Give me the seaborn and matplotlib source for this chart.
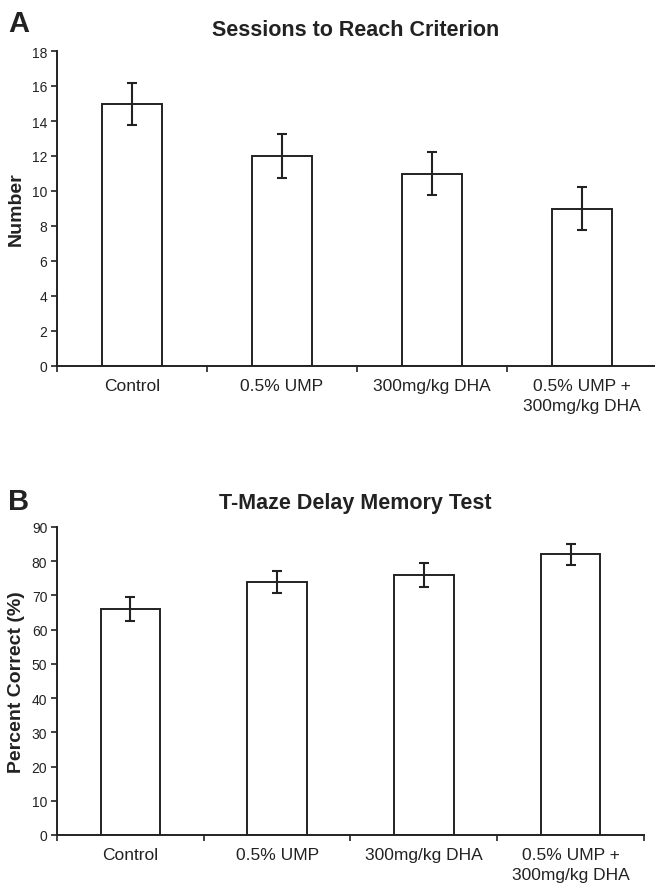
import matplotlib
matplotlib.use("Agg")
import matplotlib.pyplot as plt
import seaborn as sns
import pandas as pd

categories = ["Control", "0.5% UMP", "300mg/kg DHA", "0.5% UMP +\n300mg/kg DHA"]
sessions = [15, 12, 11, 9]
sessions_err = [1.2, 1.25, 1.25, 1.25]
percent = [66, 74, 76, 82]
percent_err = [3.5, 3.2, 3.5, 3.1]

sns.set_theme(style="white")
plt.rcParams['font.family'] = ['Liberation Sans', 'DejaVu Sans']

W, H = 655, 887
fig = plt.figure(figsize=(W / 100, H / 100), dpi=100)
axA = fig.add_axes([57 / W, 1 - 367 / H, 600 / W, 315 / H])
axB = fig.add_axes([57 / W, 1 - 836 / H, 587 / W, 308 / H])

def draw(ax, vals, errs, ymax, ystep, ylabel, title, letter, title_y, letter_y):
    df = pd.DataFrame({"cat": categories, "val": vals})
    sns.barplot(data=df, x="cat", y="val", ax=ax, color="white",
                edgecolor="#222222", linewidth=1.4, width=0.405, errorbar=None)
    ax.errorbar(range(len(vals)), vals, yerr=errs, fmt="none", ecolor="#222222",
                elinewidth=1.5, capsize=3.5, capthick=1.5)
    ax.set_xlim(-0.5, len(vals) - 0.5)
    ax.set_ylim(0, ymax)
    ax.set_yticks(range(0, ymax + 1, ystep))
    ax.set_xticks(range(len(vals)))
    ax.set_xticklabels(categories, linespacing=1.4)
    ax.set_xticks([i - 0.5 for i in range(len(vals) + 1)], minor=True)
    ax.tick_params(axis="x", which="major", length=0, labelsize=12.5, pad=9, colors="#222222")
    ax.tick_params(axis="x", which="minor", length=4, width=1.2, direction="out", bottom=True, color="#222222")
    ax.tick_params(axis="y", length=4, width=1.2, direction="out", left=True, labelsize=10, colors="#222222", pad=3)
    ax.set_xlabel("")
    ax.set_ylabel(ylabel, fontsize=14, fontweight="bold", color="#222222", labelpad=5)
    for s in ["top", "right"]:
        ax.spines[s].set_visible(False)
    for s in ["left", "bottom"]:
        ax.spines[s].set_linewidth(1.4)
        ax.spines[s].set_color("#222222")
    fig.text(0.543, title_y, title, ha="center", va="center", fontsize=15.5,
             fontweight="bold", color="#222222")
    fig.text(0.012, letter_y, letter, ha="left", va="center", fontsize=21,
             fontweight="bold", color="#222222")

draw(axA, sessions, sessions_err, 18, 2, "Number", "Sessions to Reach Criterion", "A",
     1 - 30 / H, 1 - 24 / H)
draw(axB, percent, percent_err, 90, 10, "Percent Correct (%)", "T-Maze Delay Memory Test", "B",
     1 - 504 / H, 1 - 502 / H)

fig.savefig("out.png", dpi=100)
